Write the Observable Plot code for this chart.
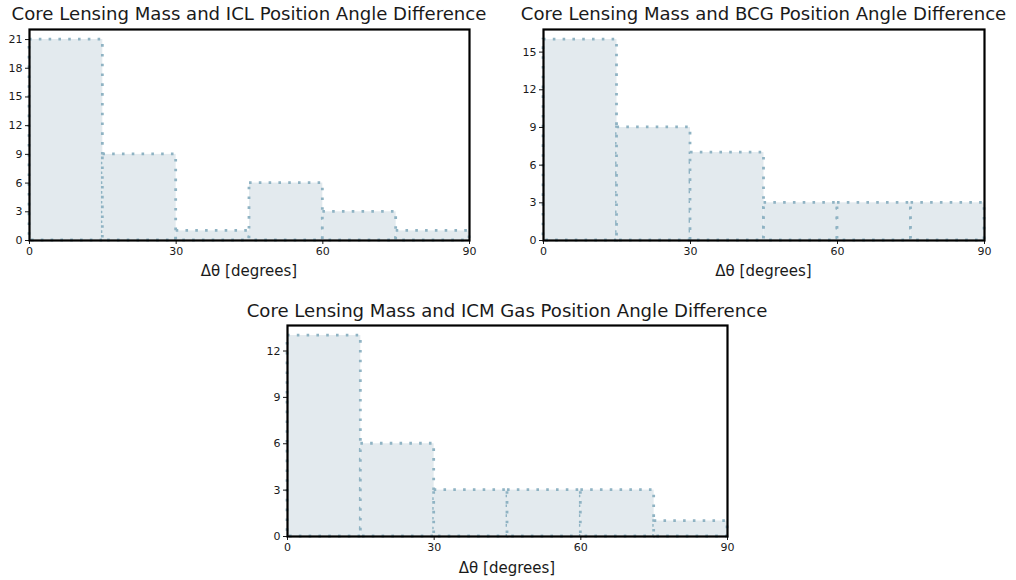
<!DOCTYPE html>
<html>
<head>
<meta charset="utf-8">
<script src="https://cdn.jsdelivr.net/npm/d3@7"></script>
<script src="https://cdn.jsdelivr.net/npm/@observablehq/plot@0.6"></script>
<style>
  html, body { margin: 0; padding: 0; background: #fff; }
  #root { position: relative; width: 1016px; height: 580px; font-family: "DejaVu Sans", sans-serif; color: #1a1a1a; }
  .title { position: absolute; font-size: 18.1px; line-height: 21px; white-space: nowrap; transform: translateX(-50%); }
  .xlabel { position: absolute; font-size: 15px; line-height: 18px; white-space: nowrap; transform: translateX(-50%); }
  .panel { position: absolute; }
</style>
</head>
<body>
<div id="root"></div>
<script>
// Data
const binEdges = [0, 15, 30, 45, 60, 75, 90];
const iclCounts = [21, 9, 1, 6, 3, 1];
const bcgCounts = [16, 9, 7, 3, 3, 3];
const icmCounts = [13, 6, 3, 3, 3, 1];
const xTicks = [0, 30, 60, 90];
const iclYTicks = [0, 3, 6, 9, 12, 15, 18, 21];
const bcgYTicks = [0, 3, 6, 9, 12, 15];
const icmYTicks = [0, 3, 6, 9, 12];
const titles = [
  "Core Lensing Mass and ICL Position Angle Difference",
  "Core Lensing Mass and BCG Position Angle Difference",
  "Core Lensing Mass and ICM Gas Position Angle Difference"
];
const xLabel = "Δθ [degrees]";

function bins(counts) {
  return counts.map((c, i) => ({x1: binEdges[i], x2: binEdges[i + 1], y: c}));
}

const root = document.getElementById("root");

const panels = [
  {counts: iclCounts, yTicks: iclYTicks, title: titles[0], left: 0, top: 20, width: 490, height: 270,
   mL: 29, mR: 21, mT: 9, mB: 50, titleY: 3, labelY: 262},
  {counts: bcgCounts, yTicks: bcgYTicks, title: titles[1], left: 510, top: 20, width: 500, height: 270,
   mL: 33, mR: 26, mT: 9, mB: 50, titleY: 3, labelY: 262},
  {counts: icmCounts, yTicks: icmYTicks, title: titles[2], left: 250, top: 310, width: 500, height: 270,
   mL: 37, mR: 23, mT: 15, mB: 44, titleY: 300, labelY: 559}
];

for (const p of panels) {
  const ymax = d3.max(p.counts) * 1.05;
  const chart = Plot.plot({
    width: p.width,
    height: p.height,
    marginLeft: p.mL,
    marginRight: p.mR,
    marginTop: p.mT,
    marginBottom: p.mB,
    style: {fontFamily: "DejaVu Sans, sans-serif", fontSize: "11px", color: "#1a1a1a", background: "transparent"},
    x: {domain: [0, 90]},
    y: {domain: [0, ymax]},
    marks: [
      Plot.rectY(bins(p.counts), {
        x1: "x1", x2: "x2", y: "y",
        fill: "#e3eaee",
        stroke: "#8fb3c3",
        strokeWidth: 2.8,
        strokeDasharray: "2.6,7.2",
        inset: 0
      }),
      Plot.axisX({ticks: xTicks, tickSize: 4, tickPadding: 3, label: null, tickFormat: d => String(d)}),
      Plot.axisY({ticks: p.yTicks, tickSize: 4, tickPadding: 3, label: null, tickFormat: d => String(d)}),
      Plot.frame({stroke: "#000", strokeWidth: 2.2})
    ]
  });
  chart.classList.add("panel");
  chart.style.left = p.left + "px";
  chart.style.top = p.top + "px";
  root.appendChild(chart);

  const cx = p.left + p.mL + (p.width - p.mL - p.mR) / 2;
  const t = document.createElement("div");
  t.className = "title";
  t.textContent = p.title;
  t.style.left = cx + "px";
  t.style.top = p.titleY + "px";
  root.appendChild(t);

  const xl = document.createElement("div");
  xl.className = "xlabel";
  xl.textContent = xLabel;
  xl.style.left = cx + "px";
  xl.style.top = p.labelY + "px";
  root.appendChild(xl);
}
</script>
</body>
</html>
